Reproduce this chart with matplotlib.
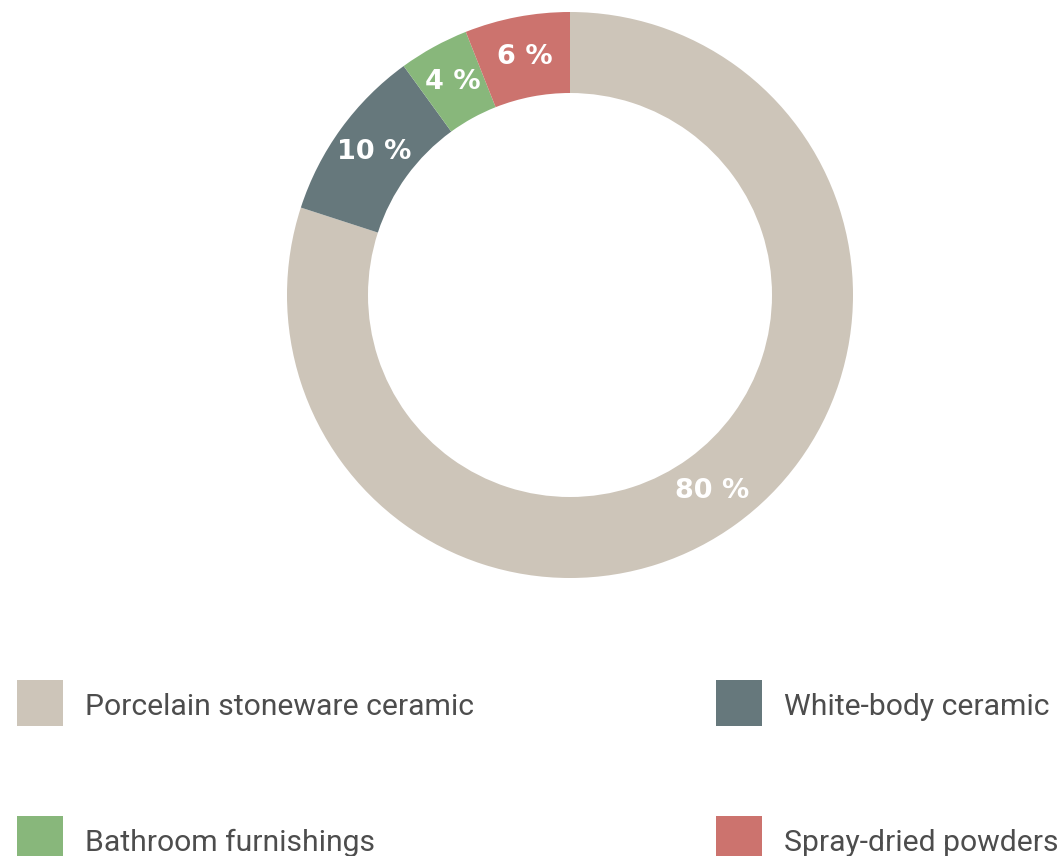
import matplotlib.pyplot as plt
from matplotlib.patches import Rectangle

# ---------------------------------------------
# Data
# ---------------------------------------------
categories = ["Porcelain stoneware ceramic", "White-body ceramic",
              "Bathroom furnishings", "Spray-dried powders"]
shares = [80, 10, 4, 6]
colors = ["#CDC5B9", "#66787C", "#88B77B", "#CC736E"]

W, H = 1060, 856
fig = plt.figure(figsize=(W / 100, H / 100), dpi=100)
ax = fig.add_axes([0, 0, 1, 1])

# donut (pixel coords, y measured from bottom)
cx, cy = 570, H - 295
r_out, r_in = 283, 202
wedges, _, pcts = ax.pie(
    shares, colors=colors, startangle=90, counterclock=False,
    center=(cx, cy), radius=r_out, frame=True,
    wedgeprops=dict(width=r_out - r_in, linewidth=0),
    autopct=lambda p: f"{p:.0f} %",
    pctdistance=(r_out + r_in) / 2 / r_out,
    textprops=dict(color="white", fontsize=19.5, fontweight="bold",
                   family="DejaVu Sans"),
)
ax.set_xlim(0, W)
ax.set_ylim(0, H)
ax.set_aspect("equal")
ax.axis("off")

# legend, two columns
col_x = [17, 716]
row_y = [680, 816]
for i, (lab, col) in enumerate(zip(categories, colors)):
    x = col_x[i % 2]
    y = row_y[i // 2]
    ax.add_patch(Rectangle((x, H - y - 46), 46, 46, color=col, lw=0))
    ax.text(x + 68, H - y - 35, lab, fontsize=21.7, color="#4D4D4D",
            family="Roboto", va="baseline", ha="left")

fig.savefig("out.png", dpi=100)
